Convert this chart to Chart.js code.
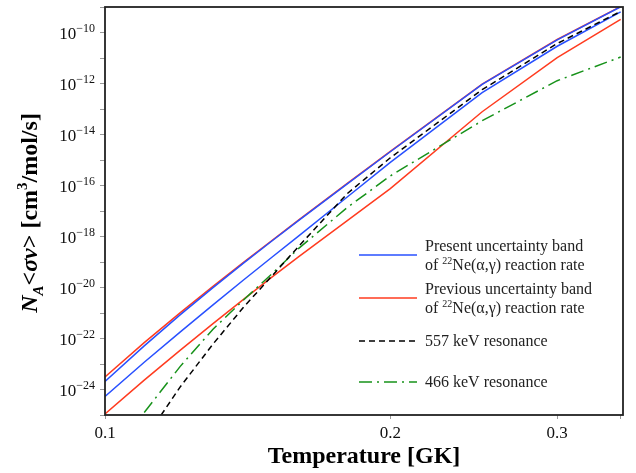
<!DOCTYPE html>
<html>
<head>
<meta charset="utf-8">
<script src="https://cdn.jsdelivr.net/npm/chart.js@4.4.1/dist/chart.umd.min.js"></script>
<style>
  html, body { margin: 0; padding: 0; background: #fff; }
  #wrap { width: 636px; height: 473px; }
</style>
</head>
<body>
<div id="wrap"><canvas id="c" width="636" height="473"></canvas></div>
<script>
"use strict";

// temperature grid (GK) and rates N_A<σv> (cm^3/mol/s)
const temps = [0.10, 0.11, 0.12, 0.13, 0.14, 0.15, 0.16, 0.18, 0.20, 0.25, 0.30, 0.35];
const presentHigh = [2.07e-24, 5.14e-23, 8.43e-22, 9.91e-21, 9.04e-20, 6.68e-19, 4.20e-18, 1.14e-16, 2.11e-15, 9.18e-13, 5.16e-11, 1.02e-9];
const presentLow = [5.32e-25, 1.175e-23, 1.79e-22, 2.09e-21, 1.97e-20, 1.54e-19, 1.03e-18, 3.46e-17, 8.09e-16, 4.38e-13, 2.89e-11, 6.40e-10];
const previousHigh = [3.10e-24, 6.87e-23, 1.01e-21, 1.10e-20, 9.62e-20, 6.98e-19, 4.36e-18, 1.175e-16, 2.17e-15, 9.44e-13, 5.31e-11, 1.04e-9];
const previousLow = [1.09e-25, 2.32e-24, 3.42e-23, 3.84e-22, 3.44e-21, 2.54e-20, 1.58e-19, 4.08e-18, 7.53e-17, 7.82e-14, 1.04e-11, 3.25e-10];
const res557 = [null, 1.04e-26, 1.24e-24, 6.05e-23, 1.68e-21, 2.83e-20, 4.02e-19, 4.67e-17, 1.22e-15, 5.74e-13, 3.69e-11, 6.7e-10];
const res466 = [null, 1.25e-25, 7.89e-24, 2.31e-22, 3.22e-21, 3.43e-20, 3.36e-19, 1.34e-17, 2.38e-16, 3.47e-14, 1.29e-12, 1.09e-11];

const xTicks = [0.1, 0.2, 0.3, 0.35];
const xTickLabels = ["0.1", "0.2", "0.3", ""];
const yTicks = [1e-25, 1e-24, 1e-23, 1e-22, 1e-21, 1e-20, 1e-19, 1e-18, 1e-17, 1e-16, 1e-15, 1e-14, 1e-13, 1e-12, 1e-11, 1e-10, 1e-9];
const yTickLabels = ["", "−24", "", "−22", "", "−20", "", "−18", "", "−16", "", "−14", "", "−12", "", "−10", ""];

const BLUE = "#2850ff", RED = "#ff3b1f", GREEN = "#17921a", BLACK = "#000";
const SERIF = "'Liberation Serif', 'Times New Roman', serif";
const DASH557 = [6, 4];
const DASH466 = [13, 5, 2, 5];

const pts = (arr) => temps.map((t, i) => ({ x: t, y: arr[i] }));

function line(data, color, dash) {
  return {
    data: pts(data),
    borderColor: color,
    backgroundColor: color,
    borderWidth: 1.5,
    borderDash: dash || [],
    pointRadius: 0,
    tension: 0,
    fill: false,
  };
}

function runsWidth(ctx, runs) {
  let w = 0;
  for (const r of runs) { ctx.font = r.f; w += ctx.measureText(r.t).width; }
  return w;
}

function drawRuns(ctx, runs, x, y) {
  let cx = x;
  for (const r of runs) {
    ctx.font = r.f;
    ctx.fillText(r.t, cx, y + (r.dy || 0));
    cx += ctx.measureText(r.t).width;
  }
}

const legendItems = [
  { color: BLUE, dash: [], y: 255, lines: [
    [{ t: "Present uncertainty band" }],
    [{ t: "of " }, { t: "22", sup: true }, { t: "Ne(α,γ) reaction rate" }] ] },
  { color: RED, dash: [], y: 298, lines: [
    [{ t: "Previous uncertainty band" }],
    [{ t: "of " }, { t: "22", sup: true }, { t: "Ne(α,γ) reaction rate" }] ] },
  { color: BLACK, dash: DASH557, y: 341, lines: [[{ t: "557 keV resonance" }]] },
  { color: GREEN, dash: DASH466, y: 382, lines: [[{ t: "466 keV resonance" }]] },
];

const decor = {
  id: "decor",
  afterDraw(chart) {
    const { ctx, chartArea: a, scales } = chart;
    ctx.save();

    // frame
    ctx.strokeStyle = "#222";
    ctx.lineWidth = 1.8;
    ctx.strokeRect(a.left, a.top, a.right - a.left, a.bottom - a.top);

    ctx.fillStyle = "#111";
    ctx.textBaseline = "alphabetic";

    // x tick labels
    ctx.font = "17px " + SERIF;
    ctx.textAlign = "center";
    xTicks.forEach((v, i) => {
      if (xTickLabels[i]) ctx.fillText(xTickLabels[i], scales.x.getPixelForValue(v), a.bottom + 23);
    });

    // y tick labels: 10 with superscript exponent
    ctx.textAlign = "left";
    yTicks.forEach((v, i) => {
      if (!yTickLabels[i]) return;
      const py = scales.y.getPixelForValue(v);
      const runs = [{ t: "10", f: "17px " + SERIF }, { t: yTickLabels[i], f: "12px " + SERIF, dy: -7 }];
      const w = runsWidth(ctx, runs);
      drawRuns(ctx, runs, a.left - 10 - w, py + 6);
    });

    // axis titles
    const B = "bold 24px " + SERIF, BI = "italic bold 24px " + SERIF;
    ctx.fillStyle = "#000";
    const xt = [{ t: "Temperature [GK]", f: B }];
    drawRuns(ctx, xt, (a.left + a.right) / 2 - runsWidth(ctx, xt) / 2, 463);

    const yt = [
      { t: "N", f: BI },
      { t: "A", f: "italic bold 15px " + SERIF, dy: 6 },
      { t: "<", f: B },
      { t: "σv", f: BI },
      { t: "> [cm", f: B },
      { t: "3", f: "bold 15px " + SERIF, dy: -10 },
      { t: "/mol/s]", f: B },
    ];
    ctx.save();
    ctx.translate(37, (a.top + a.bottom) / 2 + 2);
    ctx.rotate(-Math.PI / 2);
    drawRuns(ctx, yt, -runsWidth(ctx, yt) / 2, 0);
    ctx.restore();

    // legend
    const F = "16px " + SERIF, FS = "10px " + SERIF;
    ctx.fillStyle = "#222";
    for (const it of legendItems) {
      ctx.strokeStyle = it.color;
      ctx.lineWidth = 1.5;
      ctx.setLineDash(it.dash);
      ctx.beginPath();
      ctx.moveTo(359, it.y);
      ctx.lineTo(417, it.y);
      ctx.stroke();
      ctx.setLineDash([]);
      const n = it.lines.length;
      it.lines.forEach((ln, k) => {
        const cy = it.y + (k - (n - 1) / 2) * 19;
        const runs = ln.map((r) => ({ t: r.t, f: r.sup ? FS : F, dy: r.sup ? -6 : 0 }));
        drawRuns(ctx, runs, 425, cy + 5);
      });
    }
    ctx.restore();
  },
};

new Chart(document.getElementById("c"), {
  type: "line",
  data: {
    datasets: [
      line(res557, BLACK, DASH557),
      line(res466, GREEN, DASH466),
      line(presentHigh, BLUE),
      line(presentLow, BLUE),
      line(previousHigh, RED),
      line(previousLow, RED),
    ],
  },
  options: {
    responsive: false,
    animation: false,
    devicePixelRatio: 1,
    layout: { padding: { top: 7, right: 13, left: 0, bottom: 0 } },
    plugins: { legend: { display: false }, tooltip: { enabled: false } },
    scales: {
      x: {
        type: "logarithmic",
        min: 0.1,
        max: 0.352,
        afterBuildTicks: (s) => { s.ticks = xTicks.map((v) => ({ value: v })); },
        afterFit: (s) => { s.height = 58; },
        ticks: { display: false },
        grid: { drawOnChartArea: false, drawTicks: true, tickLength: 4, tickColor: "#999" },
        border: { display: false },
      },
      y: {
        type: "logarithmic",
        min: 1e-25,
        max: 1e-9,
        afterBuildTicks: (s) => { s.ticks = yTicks.map((v) => ({ value: v })); },
        afterFit: (s) => { s.width = 105; },
        ticks: { display: false },
        grid: { drawOnChartArea: false, drawTicks: true, tickLength: 5, tickColor: "#999" },
        border: { display: false },
      },
    },
  },
  plugins: [decor],
});
</script>
</body>
</html>
